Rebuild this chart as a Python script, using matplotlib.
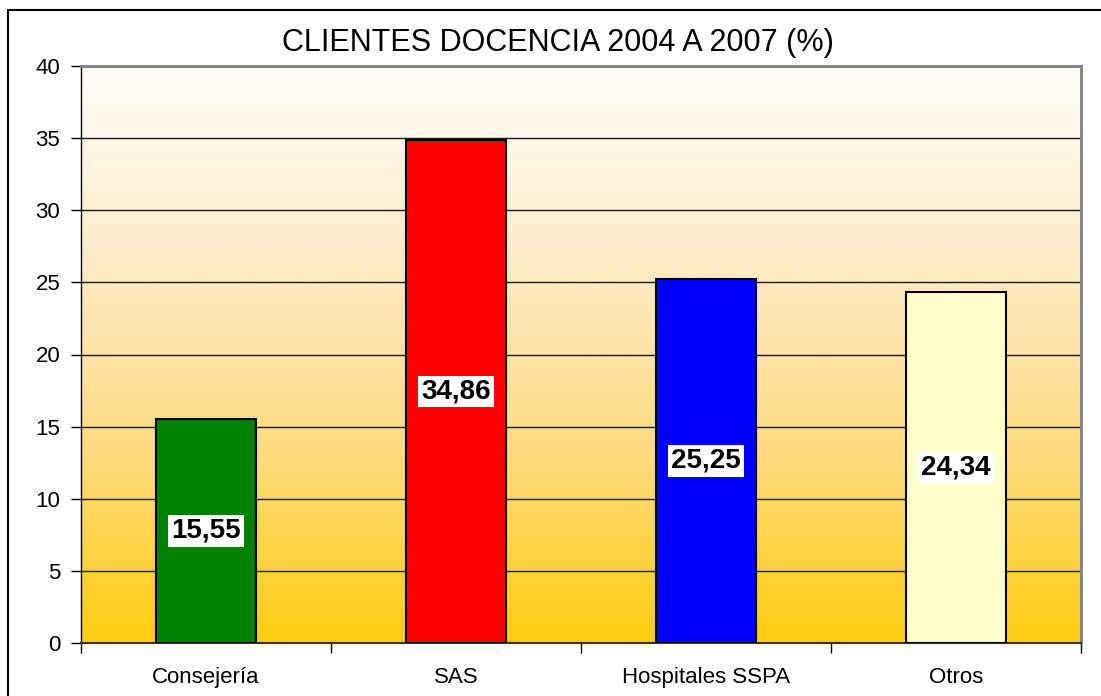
import numpy as np
import matplotlib.pyplot as plt
from matplotlib.colors import LinearSegmentedColormap
from matplotlib.patches import Rectangle

plt.rcParams['font.family'] = ['Liberation Sans', 'DejaVu Sans']

categories = ['Consejería', 'SAS', 'Hospitales SSPA', 'Otros']
values = [15.55, 34.86, 25.25, 24.34]
labels = ['15,55', '34,86', '25,25', '24,34']
bar_colors = ['#008000', '#FF0000', '#0000FF', '#FFFFCC']

fig = plt.figure(figsize=(11.01, 6.96), dpi=100)
ax = fig.add_axes([81/1101, 1-643/696, 1000/1101, 577/696])

# background gradient
grad = LinearSegmentedColormap.from_list('bg', ['#FFCC0F', '#FEDB80', '#FEEBC8', '#FFFDF8'])
ax.imshow(np.linspace(0, 1, 256).reshape(-1, 1), cmap=grad, aspect='auto',
          extent=[-0.5, 3.5, 0, 40], origin='lower', zorder=0)

x = np.arange(len(categories))
ax.bar(x, values, width=0.4, color=bar_colors, edgecolor='black', linewidth=1.5, zorder=3)
for xi, v, lab in zip(x, values, labels):
    ax.text(xi, v/2, lab, ha='center', va='center', fontsize=20, fontweight='bold',
            bbox=dict(facecolor='white', edgecolor='none', pad=2), zorder=4)

ax.set_xlim(-0.5, 3.5)
ax.set_ylim(0, 40)
ax.set_yticks(range(0, 41, 5))
ax.yaxis.grid(True, color='#1a1a1a', linewidth=1, zorder=1)
ax.set_axisbelow(True)
ax.set_xticks(x)
ax.set_xticklabels(categories, fontsize=16)
ax.set_xticks(np.arange(-0.5, 4, 1), minor=True)
ax.tick_params(axis='x', which='major', length=0, pad=17)
ax.tick_params(axis='x', which='minor', length=7, width=1)
ax.tick_params(axis='y', labelsize=16, length=7, width=1, pad=8)
for s in ['top', 'right']:
    ax.spines[s].set_color('#808080')
    ax.spines[s].set_linewidth(2)
ax.spines['left'].set_linewidth(1)
ax.spines['bottom'].set_color('#333333')
ax.spines['bottom'].set_linewidth(1.5)

fig.text(558/1101, 1-43/696, 'CLIENTES DOCENCIA 2004 A 2007 (%)', ha='center', va='center', fontsize=22)

fig.patches.append(Rectangle((8/1101, -0.1), 1.2, 1.1 - 10/696, transform=fig.transFigure,
                             fill=False, edgecolor='black', linewidth=1.5))

fig.savefig('out.png', dpi=100)
